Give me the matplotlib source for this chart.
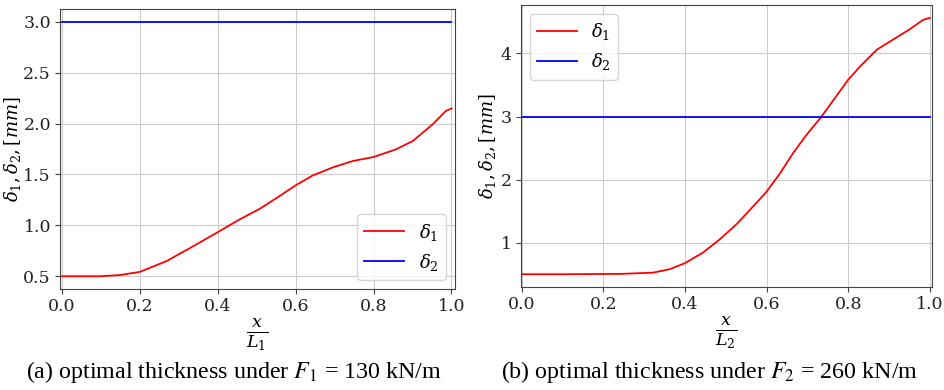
import numpy as np
import matplotlib.pyplot as plt

# left panel, F1 = 130 kN/m
x1 = [0.0, 0.05, 0.097, 0.149, 0.2, 0.268, 0.337, 0.4, 0.456, 0.508, 0.559,
      0.6, 0.644, 0.696, 0.747, 0.8, 0.858, 0.901, 0.952, 0.986, 1.0]
d1_a = [0.50, 0.50, 0.50, 0.512, 0.543, 0.648, 0.795, 0.933, 1.058, 1.163,
        1.288, 1.393, 1.49, 1.57, 1.632, 1.671, 1.747, 1.829, 1.993, 2.124, 2.148]
d2_a = 3.0

# right panel, F2 = 260 kN/m
x2 = [0.0, 0.1, 0.241, 0.322, 0.363, 0.4, 0.445, 0.486, 0.527, 0.567, 0.6,
      0.633, 0.665, 0.698, 0.735, 0.764, 0.8, 0.829, 0.87, 0.911, 0.951, 0.984, 1.0]
d1_b = [0.505, 0.505, 0.51, 0.53, 0.585, 0.68, 0.85, 1.06, 1.30, 1.576, 1.81,
        2.10, 2.42, 2.71, 3.0, 3.26, 3.58, 3.79, 4.055, 4.22, 4.38, 4.53, 4.56]
d2_b = 3.0

captions = ["(a) optimal thickness under $F_1$ = 130 kN/m",
            "(b) optimal thickness under $F_2$ = 260 kN/m"]

plt.rcParams['font.family'] = 'DejaVu Serif'
plt.rcParams['mathtext.fontset'] = 'dejavuserif'

fig = plt.figure(figsize=(9.45, 3.9), dpi=100)
axA = fig.add_axes([0.0635, 0.259, 0.4175, 0.718])
axB = fig.add_axes([0.551, 0.264, 0.435, 0.723])

def style(ax):
    for s in ax.spines.values():
        s.set_color('#444444')
    ax.grid(True, color='#cccccc', linewidth=0.8)
    ax.tick_params(colors='#444444', labelcolor='#222222', labelsize=12.5, length=3.5, pad=3)
    ax.set_axisbelow(True)

axA.plot(x1, d1_a, color='red', lw=1.3, label=r'$\delta_1$')
axA.plot([x1[0], x1[-1]], [d2_a, d2_a], color='blue', lw=1.3, label=r'$\delta_2$')
axA.set_xlim(-0.005, 1.008)
axA.set_yticks([0.5, 1.0, 1.5, 2.0, 2.5, 3.0])
axA.set_xticks([0, 0.2, 0.4, 0.6, 0.8, 1.0])
axA.set_ylabel(r'$\delta_1, \delta_2, [mm]$', fontsize=13)
axA.yaxis.set_label_coords(-0.094, 0.5)
axA.set_xlabel(r'$\frac{x}{L_1}$', fontsize=18, labelpad=1)
axA.legend(loc='lower right', fontsize=13, handlelength=2.2)
style(axA)

axB.plot(x2, d1_b, color='red', lw=1.3, label=r'$\delta_1$')
axB.plot([x2[0], x2[-1]], [d2_b, d2_b], color='blue', lw=1.3, label=r'$\delta_2$')
axB.set_xlim(-0.0025, 1.005)
axB.set_yticks([1, 2, 3, 4])
axB.set_xticks([0, 0.2, 0.4, 0.6, 0.8, 1.0])
axB.set_ylabel(r'$\delta_1, \delta_2, [mm]$', fontsize=13)
axB.yaxis.set_label_coords(-0.056, 0.5)
axB.set_xlabel(r'$\frac{x}{L_2}$', fontsize=18, labelpad=1)
axB.legend(loc='upper left', fontsize=13, handlelength=2.2)
style(axB)

fig.text(0.248, 0.046, captions[0], ha='center', va='center', fontsize=17.3,
         family='Liberation Serif', math_fontfamily='stix')
fig.text(0.751, 0.046, captions[1], ha='center', va='center', fontsize=17.3,
         family='Liberation Serif', math_fontfamily='stix')

fig.savefig('out.png', dpi=100)
